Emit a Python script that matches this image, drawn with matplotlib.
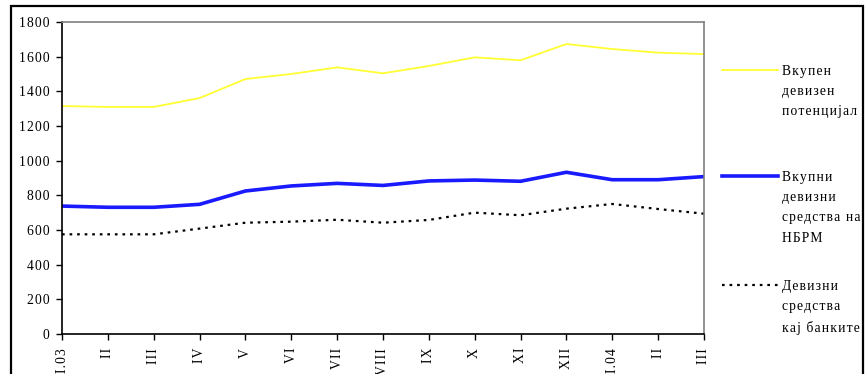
import matplotlib
matplotlib.use("Agg")
import matplotlib.pyplot as plt
from matplotlib.lines import Line2D
from matplotlib.patches import Rectangle

# monthly data, 2003-2004 (millions)
months = ["I.03", "II", "III", "IV", "V", "VI", "VII", "VIII", "IX", "X",
          "XI", "XII", "I.04", "II", "III"]
potential = [1315, 1310, 1310, 1361, 1471, 1500, 1538, 1504, 1546, 1596,
             1579, 1673, 1644, 1623, 1615]
nbrm = [738, 731, 731, 748, 825, 854, 869, 857, 883, 888, 881, 933, 890,
        890, 908]
banks = [575, 575, 575, 608, 642, 648, 659, 642, 658, 700, 685, 723, 750,
         721, 694]

labels = ["Вкупен\nдевизен\nпотенцијал",
          "Вкупни\nдевизни\nсредства на\nНБРМ",
          "Девизни\nсредства\nкај банките"]

plt.rcParams["font.family"] = ["Liberation Serif", "DejaVu Serif"]
plt.rcParams["font.size"] = 9.8


def spaced(s):
    # loose tracking like the original typesetting
    return "\n".join("\u200a".join(line) for line in s.split("\n"))


fig = plt.figure(figsize=(8.66, 3.74), dpi=100)
ax = fig.add_axes([0.0716, 0.107, 0.7413, 0.8342])

x = list(range(len(months)))
ax.plot(x, potential, color="#ffff33", lw=1.3, solid_joinstyle="round")
ax.plot(x, nbrm, color="#1a1aff", lw=2.6, solid_joinstyle="round")
ax.plot(x, banks, color="black", lw=1.6, linestyle=(0, (1.2, 2.2)))

ax.set_xlim(0, len(months) - 1)
ax.set_ylim(0, 1800)
ax.set_yticks(range(0, 1801, 200))
ax.set_yticklabels([spaced(str(v)) for v in range(0, 1801, 200)])
ax.set_xticks(x)
ax.set_xticklabels([spaced(m) for m in months], rotation=90, va="top")
ax.tick_params(direction="out", length=4, width=1, pad=5)
ax.tick_params(axis="x", pad=6)

for side in ["top", "right"]:
    ax.spines[side].set_color("#808080")
for side in ["left", "bottom"]:
    ax.spines[side].set_color("black")
for sp in ax.spines.values():
    sp.set_linewidth(1.2)

# legend keys and labels on the right
W, H = 866.0, 374.0
key_rows = [70, 176, 285]
styles = [dict(color="#ffff33", lw=1.3),
          dict(color="#1a1aff", lw=2.6),
          dict(color="black", lw=1.6, linestyle=(0, (1.2, 2.2)))]
for yk, st, lab in zip(key_rows, styles, labels):
    fig.add_artist(Line2D([722 / W, 778 / W], [1 - yk / H, 1 - yk / H],
                          transform=fig.transFigure, **st))
    fig.text(782 / W, 1 - (yk - 5) / H, spaced(lab), ha="left", va="top",
             linespacing=1.72)

# outer frame
fig.add_artist(Rectangle((11 / W, -0.05), (863 - 11) / W, 1.05 - 6.5 / H,
                         transform=fig.transFigure, fill=False,
                         edgecolor="black", lw=1.6))

fig.savefig("out.png", dpi=100)
